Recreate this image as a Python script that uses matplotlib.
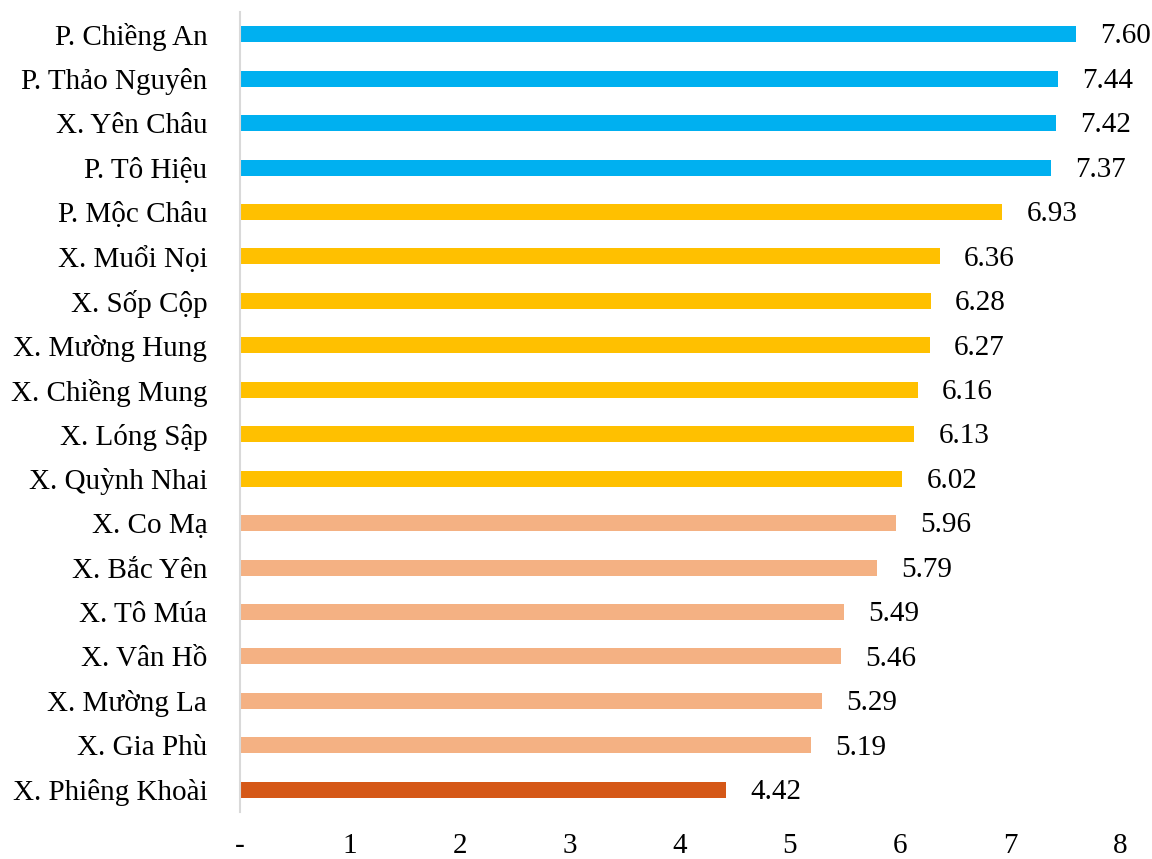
import matplotlib
matplotlib.use("Agg")
import matplotlib.pyplot as plt

categories = ["P. Chiềng An", "P. Thảo Nguyên", "X. Yên Châu", "P. Tô Hiệu", "P. Mộc Châu",
              "X. Muổi Nọi", "X. Sốp Cộp", "X. Mường Hung", "X. Chiềng Mung", "X. Lóng Sập",
              "X. Quỳnh Nhai", "X. Co Mạ", "X. Bắc Yên", "X. Tô Múa", "X. Vân Hồ",
              "X. Mường La", "X. Gia Phù", "X. Phiêng Khoài"]
values = [7.60, 7.44, 7.42, 7.37, 6.93, 6.36, 6.28, 6.27, 6.16, 6.13, 6.02,
          5.96, 5.79, 5.49, 5.46, 5.29, 5.19, 4.42]
groups = ["high"] * 4 + ["mid"] * 7 + ["low"] * 6 + ["lowest"]
group_colors = {"high": "#00B0F0", "mid": "#FFC000", "low": "#F4B183", "lowest": "#D55817"}
xtick_labels = ["-", "1", "2", "3", "4", "5", "6", "7", "8"]

plt.rcParams["font.family"] = ["Liberation Serif", "DejaVu Serif"]
FS = 21

fig = plt.figure(figsize=(11.52, 8.59), dpi=100)
ax = fig.add_axes([0.2083, 0.0547, 0.7639, 0.9313])

y = list(range(len(categories)))
colors = [group_colors[g] for g in groups]
ax.barh(y, values, height=0.36, color=colors)
for yi, v in zip(y, values):
    ax.text(v + 0.22, yi + 0.05, f"{v:.2f}", va="center", ha="left", fontsize=FS)

ax.set_ylim(len(categories) - 0.5, -0.5)
ax.set_xlim(0, 8)
ax.set_yticks(y)
ax.set_yticklabels(categories, fontsize=FS)
ax.set_xticks(range(9))
ax.set_xticklabels(xtick_labels, fontsize=FS)
ax.tick_params(axis="both", length=0)
ax.tick_params(axis="y", pad=23.5)
ax.tick_params(axis="x", pad=15)
for s in ["top", "right", "bottom"]:
    ax.spines[s].set_visible(False)
ax.spines["left"].set_color("#D9D9D9")
ax.spines["left"].set_linewidth(1.5)

fig.savefig("out.png", dpi=100)
